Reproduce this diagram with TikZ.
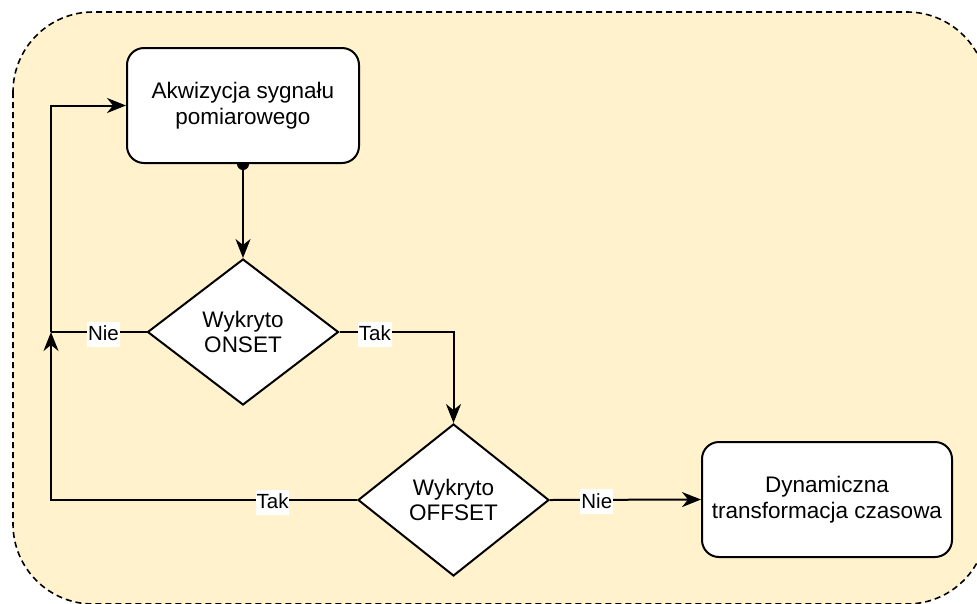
\documentclass[tikz,border=0pt]{standalone}
\usepackage{fontspec}
\setmainfont{Liberation Sans}
\usetikzlibrary{shapes.geometric,arrows.meta}
\definecolor{panelfill}{HTML}{FFF2CC}
\begin{document}
\begin{tikzpicture}[x=1pt,y=-1pt,line width=2pt,
  proc/.style={draw, fill=white, rounded corners=17pt, minimum width=232pt,
    minimum height=115pt, inner sep=0pt, align=center,
    font=\fontsize{22.5}{25.5}\selectfont},
  test/.style={draw, fill=white, diamond, minimum width=191pt,
    minimum height=146pt, inner sep=0pt, align=center,
    font=\fontsize{22.5}{25.5}\selectfont},
  flow/.style={-{Stealth[length=19pt,width=15pt,inset=6pt]}},
  lbl/.style={fill=white, inner xsep=1pt, inner ysep=1.5pt, text height=17.5pt,
    text depth=4.5pt, font=\fontsize{20.5}{22}\selectfont, yshift=-2pt}]

\useasboundingbox (0,0) rectangle (977,603);

% dashed background panel
\begin{scope}
  \clip (0,0) rectangle (977,603);
  \draw[fill=panelfill, line width=1.6pt, dash pattern=on 6pt off 4pt,
    rounded corners=80pt] (13,12) rectangle (987,604);
\end{scope}

% process steps and decisions
\node[proc] (b1) at (243,105.5) {Akwizycja sygnału\\pomiarowego};
\node[test] (d1) at (243,332) {Wykryto\\ONSET};
\node[test, minimum height=152pt] (d2) at (453.5,500) {Wykryto\\OFFSET};
\node[proc, minimum width=250pt] (b2) at (827,499.5) {Dynamiczna\\transformacja czasowa};
\coordinate (j) at (51,332);

% connectors
\draw[flow] (b1.south) -- (d1.north);
\fill (b1.south) ++(-6,0) arc (180:0:6) -- cycle;
\draw (d1.west) -- node[lbl, pos=0.45] {Nie} (j);
\draw[flow] (d1.east) -| node[lbl, pos=0.155] {Tak} (d2.north);
\draw[flow] (d2.west) -| node[lbl, pos=0.138] {Tak} (j);
\draw[flow] (j) |- (b1.west);
\draw[flow] (d2.east) -- node[lbl, pos=0.31] {Nie} (b2.west);
\end{tikzpicture}
\end{document}
